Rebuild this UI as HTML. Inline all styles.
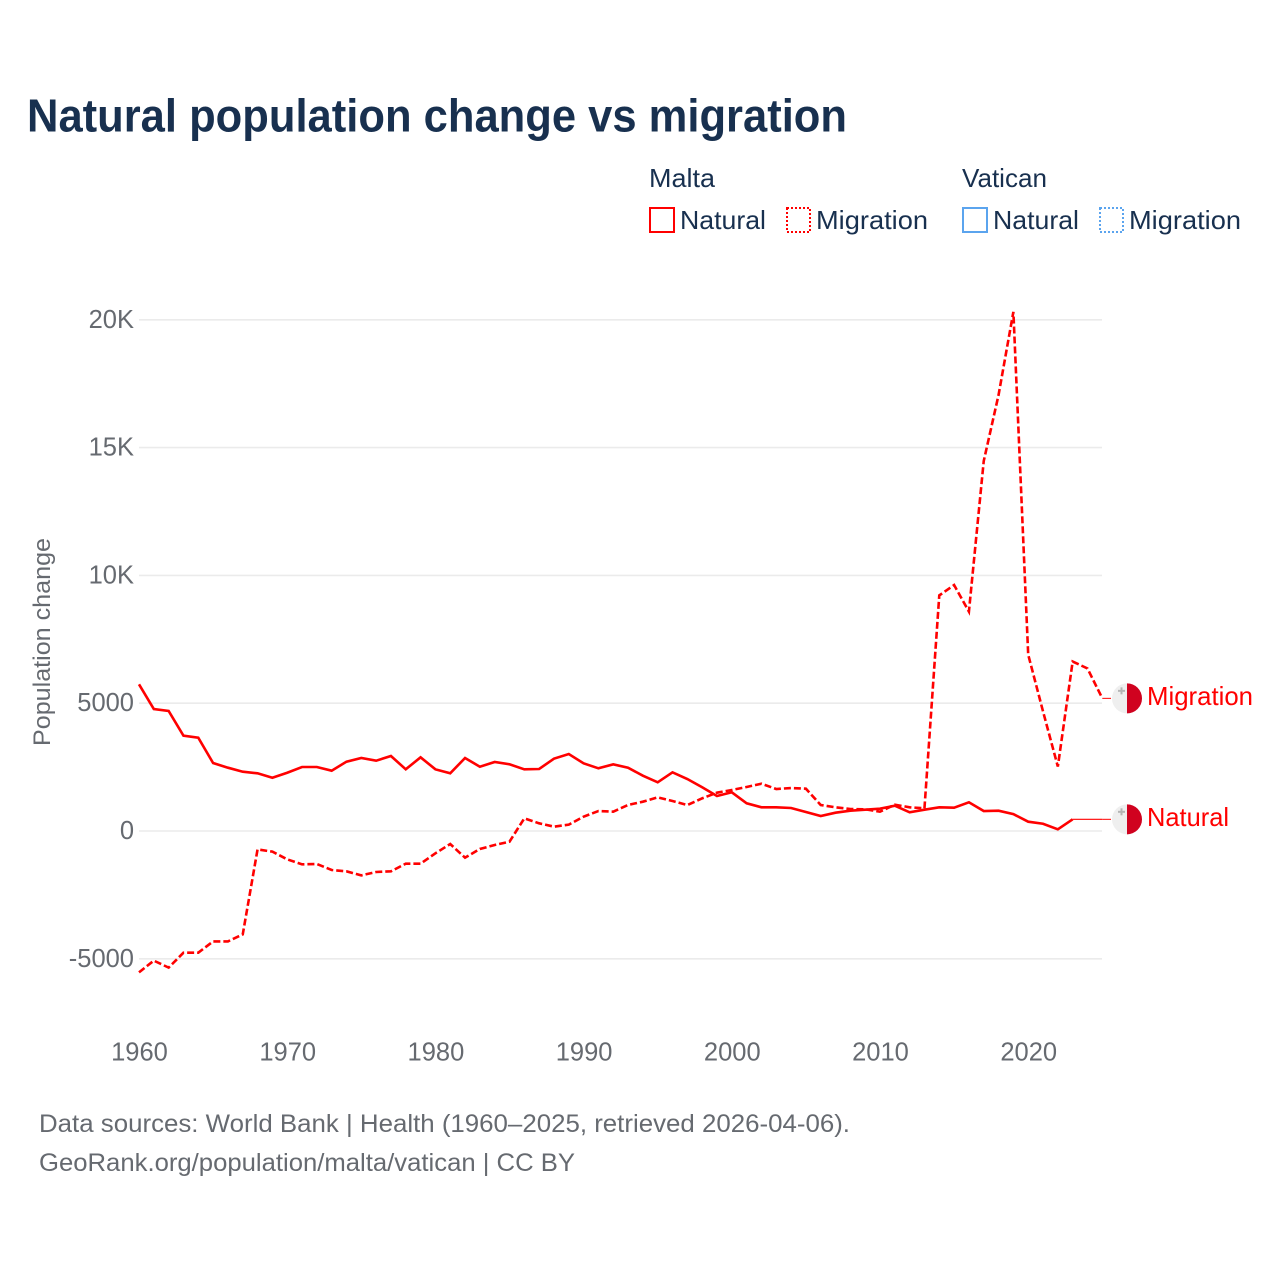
<!DOCTYPE html>
<html lang="en">
<head>
<meta charset="utf-8">
<title>Natural population change vs migration</title>
<style>
  html, body { margin: 0; padding: 0; background: #fff; }
  svg { display: block; }
  text { font-family: "Liberation Sans", sans-serif; }
</style>
</head>
<body>
<svg id="chart" xmlns="http://www.w3.org/2000/svg" width="1280" height="1280" viewBox="0 0 1280 1280">
  <rect width="1280" height="1280" fill="#ffffff"/>
  <text x="27" y="131.5" font-size="46" font-weight="bold" fill="#18304f" textLength="820" lengthAdjust="spacingAndGlyphs">Natural population change vs migration</text>

  <g font-size="26" fill="#18304f">
    <text x="649" y="187" textLength="66" lengthAdjust="spacingAndGlyphs">Malta</text>
    <text x="962" y="187" textLength="85" lengthAdjust="spacingAndGlyphs">Vatican</text>

    <rect x="650" y="208" width="24" height="24" fill="none" stroke="#ff0000" stroke-width="2"/>
    <text x="680" y="229" textLength="86" lengthAdjust="spacingAndGlyphs">Natural</text>
    <rect x="787" y="208" width="23" height="24" fill="none" stroke="#ff0000" stroke-width="2" stroke-dasharray="2 2"/>
    <text x="816" y="229" textLength="112" lengthAdjust="spacingAndGlyphs">Migration</text>

    <rect x="963" y="208" width="24" height="24" fill="none" stroke="#5ba4ee" stroke-width="2"/>
    <text x="993" y="229" textLength="86" lengthAdjust="spacingAndGlyphs">Natural</text>
    <rect x="1100" y="208" width="23" height="24" fill="none" stroke="#5ba4ee" stroke-width="2" stroke-dasharray="2 2"/>
    <text x="1129" y="229" textLength="112" lengthAdjust="spacingAndGlyphs">Migration</text>
  </g>

  <text transform="translate(50 746) rotate(-90)" font-size="24" fill="#666a70" textLength="208" lengthAdjust="spacingAndGlyphs">Population change</text>

  <g id="grid"></g>
  <g id="yticks"></g>
  <g id="xticks"></g>
  <g id="series"></g>
  <g id="endlabels"></g>

  <text x="39" y="1132" font-size="25" fill="#666a70" textLength="811" lengthAdjust="spacingAndGlyphs">Data sources: World Bank | Health (1960–2025, retrieved 2026-04-06).</text>
  <text x="39" y="1171" font-size="25" fill="#666a70" textLength="536" lengthAdjust="spacingAndGlyphs">GeoRank.org/population/malta/vatican | CC BY</text>
</svg>

<script>
const firstYear = 1960;
const naturalMalta = [
  5740, 4773, 4695, 3730, 3650, 2660, 2477, 2320, 2257, 2085,
  2280, 2504, 2504, 2360, 2712, 2856, 2750, 2934, 2413, 2883,
  2413, 2257, 2856, 2516, 2700, 2609, 2413, 2426, 2830, 3012,
  2648, 2453, 2609, 2477, 2164, 1905, 2296, 2034, 1710, 1369,
  1514, 1084, 927, 927, 900, 743, 587, 716, 794, 833,
  872, 990, 732, 833, 927, 912, 1123, 782, 794, 660,
  364, 283, 67, 457, 457, 457
];
const migrationMalta = [
  -5530, -5072, -5345, -4760, -4760, -4320, -4320, -4046, -719, -808,
  -1109, -1304, -1291, -1526, -1578, -1735, -1604, -1578, -1278, -1278,
  -873, -509, -1043, -704, -548, -418, 496, 300, 170, 248,
  561, 782, 756, 1017, 1147, 1317, 1173, 1017, 1277, 1500,
  1604, 1721, 1851, 1643, 1682, 1655, 1017, 927, 861, 849,
  755, 1029, 927, 888, 9218, 9623, 8585, 14475, 17060, 20310,
  6900, 4680, 2520, 6630, 6360, 5190
];
const yTickValues = [-5000, 0, 5000, 10000, 15000, 20000];
const yTickLabels = ["-5000", "0", "5000", "10K", "15K", "20K"];
const xTickValues = [1960, 1970, 1980, 1990, 2000, 2010, 2020];
const xTickLabels = ["1960", "1970", "1980", "1990", "2000", "2010", "2020"];

const SVG_NS = "http://www.w3.org/2000/svg";
const xScale = function (year) { return 139 + (year - 1960) * 14.82; };
const yScale = function (value) { return 831 - value * 0.02556; };
const plotLeft = 139;
const plotRight = 1102;
const lineColor = "#ff0000";
const tickColor = "#666a70";

function make(tag, attrs, parent, text) {
  const el = document.createElementNS(SVG_NS, tag);
  for (const key in attrs) { el.setAttribute(key, attrs[key]); }
  if (text !== undefined) { el.textContent = text; }
  parent.appendChild(el);
  return el;
}

const gridGroup = document.getElementById("grid");
const yTickGroup = document.getElementById("yticks");
yTickValues.forEach(function (value, i) {
  const y = yScale(value);
  const line = make("line", { x1: plotLeft, x2: plotRight, y1: y, y2: y, stroke: "#ebebeb", "stroke-width": 1.6 }, gridGroup);
  
  
  const label = make("text", { x: 134, y: y + 8, "text-anchor": "end", "font-size": 25.5, fill: tickColor }, yTickGroup, yTickLabels[i]);
  
  
});

const xTickGroup = document.getElementById("xticks");
xTickValues.forEach(function (year, i) {
  const label = make("text", { x: xScale(year) + 0.5, y: 1060.5, "text-anchor": "middle", "font-size": 25.5, fill: tickColor }, xTickGroup, xTickLabels[i]);
  
  
});

function pathFrom(values, startIndex, endIndex) {
  let d = "";
  for (let i = startIndex; i <= endIndex; i++) {
    d += (i === startIndex ? "M" : "L") + xScale(firstYear + i).toFixed(2) + " " + yScale(values[i]).toFixed(2);
  }
  return d;
}

const seriesGroup = document.getElementById("series");
const lastIndex = naturalMalta.length - 1;

const naturalLine = make("path", { d: pathFrom(naturalMalta, 0, lastIndex - 2), fill: "none", stroke: lineColor, "stroke-width": 2.6, "stroke-linejoin": "miter" }, seriesGroup);



const naturalTail = make("path", { d: pathFrom(naturalMalta, lastIndex - 2, lastIndex), fill: "none", stroke: lineColor, "stroke-width": 1.1 }, seriesGroup);



const migrationLine = make("path", { d: pathFrom(migrationMalta, 0, lastIndex), fill: "none", stroke: lineColor, "stroke-width": 2.6, "stroke-dasharray": "7 3", "stroke-linejoin": "miter" }, seriesGroup);



function endLabel(value, labelText, labelWidth, key) {
  const group = document.getElementById("endlabels");
  const y = yScale(value);
  const endX = xScale(firstYear + lastIndex);

  const connector = make("line", { x1: endX, x2: 1111, y1: y, y2: y, stroke: lineColor, "stroke-width": 1 }, group);
  
  

  const disc = make("circle", { cx: 1127, cy: y, r: 15, fill: "#efefef" }, group);
  
  

  const half = make("path", { d: "M1127 " + (y - 15) + "A15 15 0 0 1 1127 " + (y + 15) + "Z", fill: "#d0021f" }, group);
  
  

  const crossV = make("rect", { x: 1120.5, y: y - 11, width: 2, height: 7, fill: "#b5b5b5" }, group);
  
  

  const crossH = make("rect", { x: 1118, y: y - 8.5, width: 7, height: 2, fill: "#b5b5b5" }, group);
  
  

  const label = make("text", { x: 1147, y: y + 6.5, "font-size": 26, fill: lineColor, textLength: labelWidth, lengthAdjust: "spacingAndGlyphs" }, group, labelText);
  
  
}

endLabel(migrationMalta[lastIndex], "Migration", 106, "migration-end");
endLabel(naturalMalta[lastIndex], "Natural", 82, "natural-end");
</script>
</body>
</html>
